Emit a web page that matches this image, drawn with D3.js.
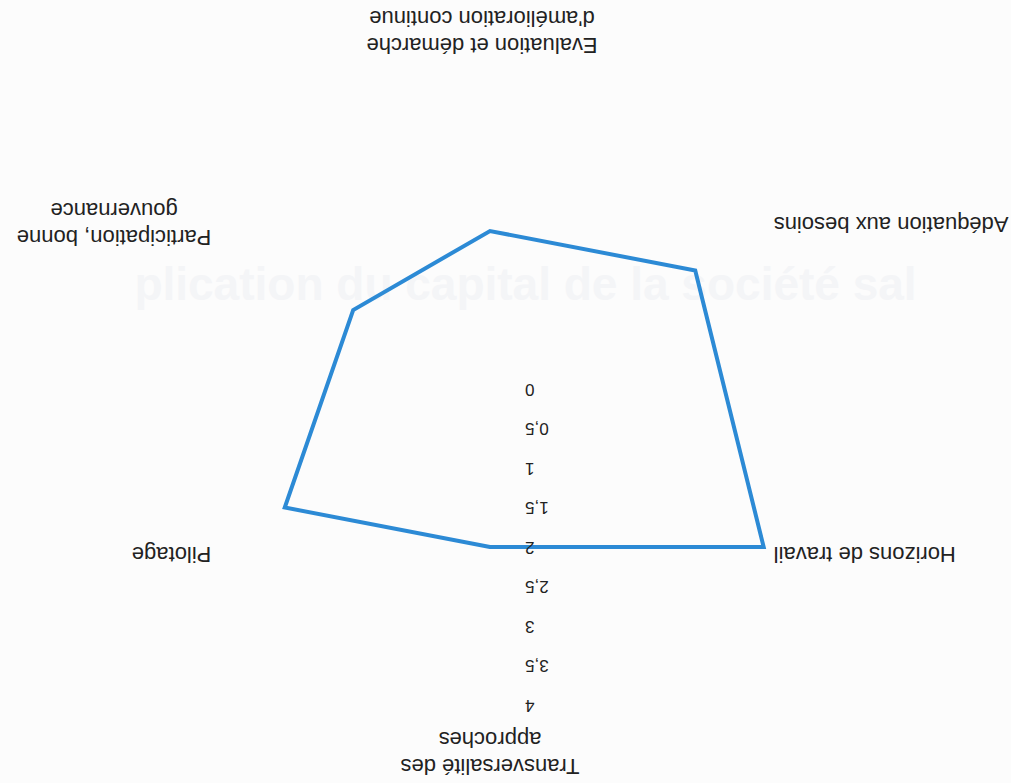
<!DOCTYPE html>
<html>
<head>
<meta charset="utf-8">
<script src="https://cdn.jsdelivr.net/npm/d3@7"></script>
<style>
  body { margin: 0; background: #fcfcfc; }
  text { font-family: "Liberation Sans", Arial, sans-serif; fill: #222; }
</style>
</head>
<body>
<svg width="1011" height="783"></svg>
<script>
// axes, clockwise from the top (the scan is upside down, so the whole chart gets turned 180deg)
var categories = [
  "Transversalité des\napproches",
  "Pilotage",
  "Participation, bonne\ngouvernance",
  "Evaluation et démarche\nd'amélioration continue",
  "Adéquation aux besoins",
  "Horizons de travail"
];
var values = [2, 3, 2, 2, 3, 4];
var ticks = [0, 0.5, 1, 1.5, 2, 2.5, 3, 3.5, 4];

var svg = d3.select("svg");
var W = 1011, H = 783;
var cx = 521, cy = 394;

var fr = d3.formatLocale({ decimal: ",", thousands: " ", grouping: [3], currency: ["", " €"] });
var fmt = fr.format(".1~f");

// faint bleed-through from the back of the page
svg.append("text")
  .attr("x", W / 2 + 20)
  .attr("y", 300)
  .attr("text-anchor", "middle")
  .style("font-size", "46px")
  .style("font-weight", "bold")
  .style("fill", "#f4f5f7")
  .text("plication du capital de la société sal");

var g = svg.append("g")
  .attr("transform", "rotate(180," + W / 2 + "," + H / 2 + ")");

var r = d3.scaleLinear().domain([0, 4]).range([0, 316]);
var n = categories.length;
var angle = function(i) { return -Math.PI / 2 + i * 2 * Math.PI / n; };

var line = d3.lineRadial()
  .angle(function(d, i) { return angle(i) + Math.PI / 2; })
  .radius(function(d) { return r(d); })
  .curve(d3.curveLinearClosed);

g.append("path")
  .datum(values)
  .attr("transform", "translate(" + cx + "," + cy + ")")
  .attr("d", line)
  .attr("fill", "none")
  .attr("stroke", "#2c8ad5")
  .attr("stroke-width", 4)
  .attr("stroke-linejoin", "miter");

// value ticks on the first axis
g.selectAll(".tick")
  .data(ticks)
  .enter().append("text")
  .attr("class", "tick")
  .attr("x", cx - 35)
  .attr("y", function(d) { return cy - r(d); })
  .attr("text-anchor", "end")
  .attr("dominant-baseline", "central")
  .style("font-size", "17px")
  .text(function(d) { return fmt(d); });

// category labels
var lh = 27;
categories.forEach(function(c, i) {
  var a = angle(i);
  var px = cx + Math.cos(a) * r(4);
  var py = cy + Math.sin(a) * r(4);
  var lines = c.split("\n");
  var t = g.append("text").style("font-size", "22px");
  var spans = lines.map(function(l) {
    return t.append("tspan").text(l);
  });
  var widths = spans.map(function(s) { return s.node().getComputedTextLength(); });
  var maxW = d3.max(widths);
  var x0, yTop;
  t.attr("text-anchor", "middle");
  if (Math.abs(Math.cos(a)) < 0.01) {
    x0 = Math.sin(a) < 0 ? px : px + 8;
    yTop = Math.sin(a) < 0 ? py - 27 - (lines.length - 1) * lh : py + 35;
    spans.forEach(function(s, k) { s.attr("x", x0).attr("y", yTop + k * lh); });
  } else {
    var mid = Math.cos(a) > 0 ? px + 5 + maxW / 2 : px - 10 - maxW / 2;
    var yc = py + Math.sin(a) * 14 - (lines.length - 1) * lh / 2;
    spans.forEach(function(s, k) {
      s.attr("x", mid).attr("y", yc + k * lh).attr("dominant-baseline", "central");
    });
  }
});
</script>
</body>
</html>
